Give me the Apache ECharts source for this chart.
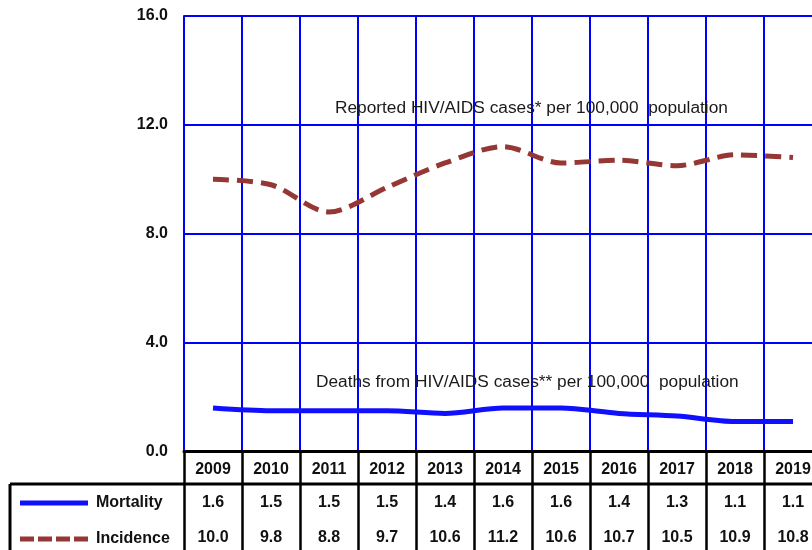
<!DOCTYPE html>
<html>
<head>
<meta charset="utf-8">
<script src="https://cdn.jsdelivr.net/npm/echarts@6/dist/echarts.min.js"></script>
<style>
html,body{margin:0;padding:0;background:#fff;}
#c{width:812px;height:550px;}
</style>
</head>
<body>
<div id="c"></div>
<script>
var years = ['2009','2010','2011','2012','2013','2014','2015','2016','2017','2018','2019'];
var mortality = [1.6,1.5,1.5,1.5,1.4,1.6,1.6,1.4,1.3,1.1,1.1];
var incidence = [10.0,9.8,8.8,9.7,10.6,11.2,10.6,10.7,10.5,10.9,10.8];
var yTicks = [0,4,8,12,16];
var seriesNames = ['Mortality','Incidence'];
var noteIncidence = 'Reported HIV/AIDS cases* per 100,000  population';
var noteMortality = 'Deaths from HIV/AIDS cases** per 100,000  population';

var FONT = '"Liberation Sans", Arial, sans-serif';
var chart = echarts.init(document.getElementById('c'), null, {renderer:'canvas'});

function valueAxis(arr, margin){
  return {
    type:'category', data: years, gridIndex:0, position:'bottom',
    axisLine:{show:false}, axisTick:{show:false}, splitLine:{show:false},
    axisLabel:{show:true, interval:0, margin:margin, color:'#111', fontFamily:FONT, fontWeight:'bold', fontSize:16,
      formatter:function(v,i){ return arr[i].toFixed(1); }}
  };
}
function legendFor(name, icon, color, top){
  return {
    data:[{name:name, icon:icon, itemStyle:{color:color}}],
    left:20, top:top, padding:0, itemWidth:68, itemHeight:5,
    textStyle:{color:'#111', fontFamily:FONT, fontWeight:'bold', fontSize:16, padding:[0,0,0,3]}
  };
}
var solidIcon = 'path://M0,0h68v5h-68z';
var dashIcon = 'path://M0,0h14v5h-14z M18,0h14v5h-14z M36,0h14v5h-14z M54,0h14v5h-14z';

var option = {
  animation:false,
  backgroundColor:'#fff',
  grid:{left:184, top:16, width:638, height:435.5, outerBoundsMode:'none', containLabel:false},
  legend:[
    legendFor(seriesNames[0], solidIcon, '#1010ff', 495),
    legendFor(seriesNames[1], dashIcon, '#953735', 531)
  ],
  xAxis:[
    {
      type:'category', data: years, gridIndex:0, position:'bottom', boundaryGap:true,
      axisLine:{show:true, onZero:false, lineStyle:{color:'#000', width:3}},
      axisTick:{show:true, interval:0, length:100, lineStyle:{color:'#000', width:2.5}},
      splitLine:{show:true, interval:0, lineStyle:{color:'#0000ff', width:2}},
      axisLabel:{interval:0, margin:10, color:'#111', fontFamily:FONT, fontWeight:'bold', fontSize:16}
    },
    valueAxis(mortality, 43),
    valueAxis(incidence, 78)
  ],
  yAxis:{
    type:'value', min:yTicks[0], max:yTicks[yTicks.length-1], interval:4,
    axisLine:{show:true, lineStyle:{color:'#0000ff', width:2}},
    axisTick:{show:false},
    splitLine:{show:true, lineStyle:{color:'#0000ff', width:2}},
    axisLabel:{margin:16, color:'#111', fontFamily:FONT, fontWeight:'bold', fontSize:16,
      formatter:function(v){ return v.toFixed(1); }}
  },
  graphic:[
    {type:'line', shape:{x1:10, y1:484, x2:812, y2:484}, style:{stroke:'#000', lineWidth:3}, z:10},
    {type:'line', shape:{x1:10, y1:484, x2:10, y2:550}, style:{stroke:'#000', lineWidth:3}, z:10},
    {type:'text', left:335, top:100, style:{text:noteIncidence, fill:'#1a1a1a', font:'17.3px '+FONT}, z:10},
    {type:'text', left:316, top:374, style:{text:noteMortality, fill:'#1a1a1a', font:'17.3px '+FONT}, z:10}
  ],
  series:[
    {
      name:seriesNames[0], type:'line', xAxisIndex:0, data:mortality, smooth:0.3,
      symbol:'none', showSymbol:false, color:'#1010ff',
      lineStyle:{color:'#1010ff', width:5}, z:5
    },
    {
      name:seriesNames[1], type:'line', xAxisIndex:0, data:incidence, smooth:0.3,
      symbol:'none', showSymbol:false, color:'#953735',
      lineStyle:{color:'#953735', width:5, type:[16,8]}, z:5
    }
  ]
};
chart.setOption(option);
</script>
</body>
</html>
